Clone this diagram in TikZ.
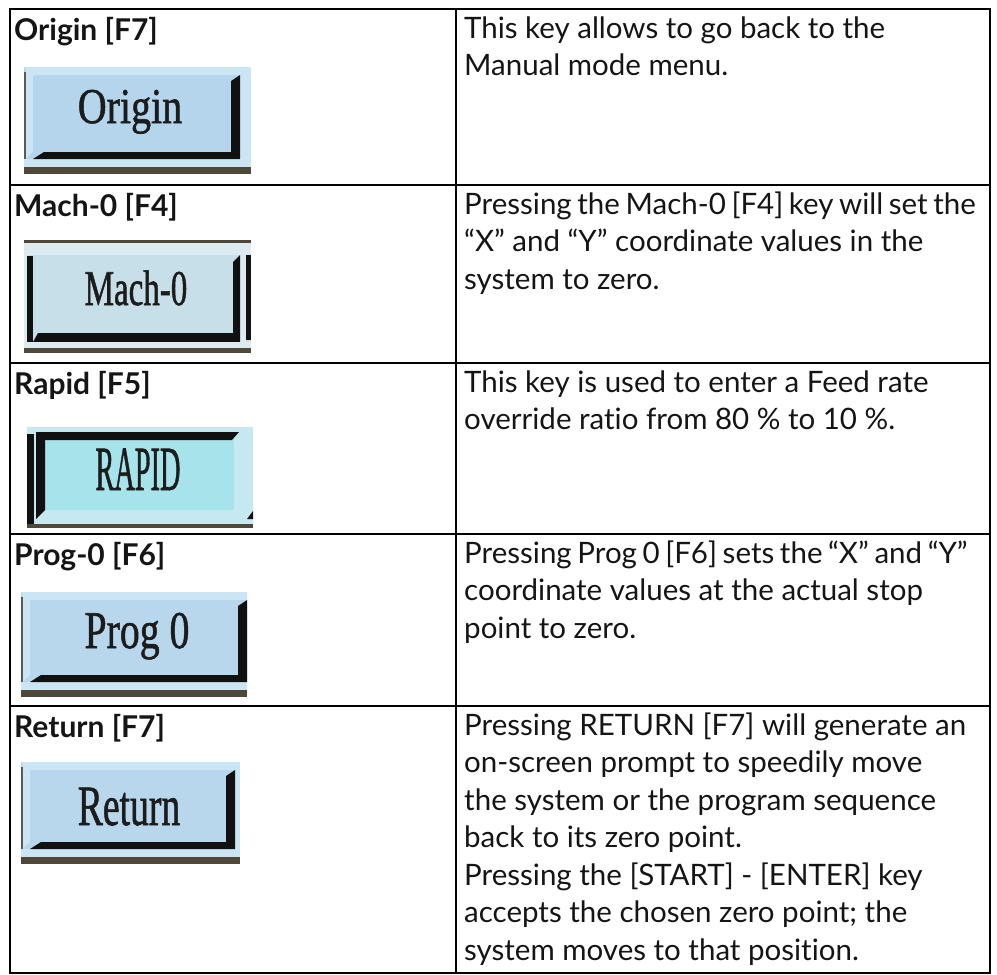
\documentclass[tikz,border=0pt]{standalone}
\usepackage{fontspec}
\usepackage{graphicx}
\setmainfont{Lato}[Ligatures=NoCommon]
\newfontfamily\keyfont{Liberation Serif}[FakeBold=1.2]
\definecolor{keyface}{HTML}{B4D5EB}
\definecolor{keyhi}{HTML}{CCE5F4}
\definecolor{keydark}{HTML}{111111}
\definecolor{keybase}{HTML}{4F4839}
\definecolor{keyedge}{HTML}{5A5A5A}
\definecolor{keyink}{HTML}{1C1C1C}
\definecolor{machface}{HTML}{C7DFE9}
\definecolor{machhi}{HTML}{DCEBF0}
\definecolor{rapidface}{HTML}{A7E3EA}
\definecolor{rapidhi}{HTML}{C6E8F0}
\definecolor{bodyink}{HTML}{151515}
\newcommand{\RaisedKey}[5]{%
\begin{scope}[shift={(#1,#2)}]
 \fill[keyface] (0,0) rectangle (#3,#4);
 \fill[keyhi] (0,0) -- (#3,0) -- ({#3-#5},8) -- (9,8) -- cycle;
 \fill[keyhi] ({#3-#5},0) rectangle (#3,{#4-7});
 \fill[keyhi] (1.5,0) -- (9,8) -- (9,{#4-22}) -- (1.5,{#4-15}) -- cycle;
 \draw[keyedge, line width=1.5pt] (0.75,5) -- (0.75,{#4-10});
 \fill[keyhi] (0,{#4-15}) rectangle (#3,{#4-7});
 \fill[keydark] (9,{#4-15}) -- ({#3-#5},{#4-15}) -- ({#3-#5},8) -- ({#3-#5-9},14) -- ({#3-#5-9},{#4-22}) -- (20,{#4-22}) -- cycle;
 \fill[keybase] (0,{#4-7}) rectangle (#3,#4);
\end{scope}}
\newcommand{\tightsp}{\spaceskip=0.19em plus 0.05em\relax}
\begin{document}
\begin{tikzpicture}[x=1pt,y=-1pt,
  body/.style={anchor=base west, inner sep=0pt, text=bodyink, font=\fontsize{29.5}{36}\selectfont},
  head/.style={anchor=base west, inner sep=0pt, text=bodyink, font=\fontsize{30}{36}\selectfont\bfseries},
  keytext/.style={anchor=base, inner sep=0pt, text=keyink, font=\keyfont},
  grid/.style={line width=2.7pt, black}]
\useasboundingbox (0,0) rectangle (997,975);

% ---------- buttons ----------
\RaisedKey{24}{67}{227}{107}{11}
% Mach-0
\begin{scope}[shift={(24,240)}]
 \fill[machface] (0,0) rectangle (227,113);
 \fill[keybase] (0,0) rectangle (227,3);
 \fill[machhi] (0,3) rectangle (227,15);
 \fill[machhi] (0,15) rectangle (3,102);
 \fill[keydark] (3,16) rectangle (9,102);
 \fill[machhi] (216,15) rectangle (222,102);
 \fill[keydark] (216,15) -- (216,102) -- (9,102) -- (14,93) -- (209,93) -- (209,22) -- cycle;
 \fill[keydark] (222,15) rectangle (227,100);
 \fill[machhi] (0,102) rectangle (227,108);
 \fill[keybase] (0,108) rectangle (227,113);
\end{scope}
% RAPID
\begin{scope}[shift={(27,427)}]
 \fill[rapidhi] (0,0) rectangle (226,101);
 \fill[rapidface] (18,13) rectangle (207,83);
 \fill[keydark] (0,7) rectangle (7,100);
 \fill[keydark] (9,5) -- (212,5) -- (205,13) -- (18,13) -- (18,83) -- (9,92) -- cycle;
 \fill[keybase] (0,97) rectangle (226,101);
 \fill[keydark] (226,84) -- (226,92) -- (220,92) -- cycle;
\end{scope}
% Prog 0
\colorlet{keyface}{keyface!95!white}
\RaisedKey{21}{592}{226}{105}{0}
% Return
\RaisedKey{21}{762}{219}{102}{5}

% ---------- key labels ----------
\node[keytext] (k1) at (130,123) {\fontsize{50}{50}\selectfont\scalebox{0.8}[1]{Origin}};
\node[keytext] (k2) at (136,305) {\fontsize{50}{50}\selectfont\scalebox{0.66}[1]{Mach-0}};
\node[keytext] (k3) at (138,490) {\fontsize{63}{63}\selectfont\scalebox{0.45}[1]{RAPID}};
\node[keytext] (k4) at (137,648) {\fontsize{53}{53}\selectfont\scalebox{0.75}[1]{Prog 0}};
\node[keytext] (k5) at (129,825) {\fontsize{57}{57}\selectfont\scalebox{0.66}[1]{Return}};

% ---------- table ----------
\draw[grid] (10,9) rectangle (990,973);
\draw[grid] (456,9) -- (456,973);
\draw[grid] (10,185) -- (990,185);
\draw[grid] (10,363) -- (990,363);
\draw[grid] (10,534) -- (990,534);
\draw[grid] (10,706) -- (990,706);

% ---------- headers ----------
\node[head] (h1) at (14,40) {Origin [F7]};
\node[head] (h2) at (14,216) {Mach-0 [F4]};
\node[head] (h3) at (14,394) {Rapid [F5]};
\node[head] (h4) at (14,565) {Prog-0 [F6]};
\node[head] (h5) at (14,737) {Return [F7]};

% ---------- descriptions ----------
\node[body] (t1a) at (464,38) {This key allows to go back to the};
\node[body] (t1b) at (464,75.5) {Manual mode menu.};

\node[body] (t2a) at (464,214) {\tightsp Pressing the Mach-0 [F4] key will set the};
\node[body] (t2b) at (464,251.5) {“X” and “Y” coordinate values in the};
\node[body] (t2c) at (464,289) {system to zero.};

\node[body] (t3a) at (464,392) {This key is used to enter a Feed rate};
\node[body] (t3b) at (464,429.5) {override ratio from 80 \% to 10 \%.};

\node[body] (t4a) at (464,563) {\tightsp Pressing Prog 0 [F6] sets the “X” and “Y”};
\node[body] (t4b) at (464,600.5) {coordinate values at the actual stop};
\node[body] (t4c) at (464,638) {point to zero.};

\node[body] (t5a) at (464,735) {Pressing RETURN [F7] will generate an};
\node[body] (t5b) at (464,772.5) {on-screen prompt to speedily move};
\node[body] (t5c) at (464,810) {the system or the program sequence};
\node[body] (t5d) at (464,847.5) {back to its zero point.};
\node[body] (t5e) at (464,885) {Pressing the [START] - [ENTER] key};
\node[body] (t5f) at (464,922.5) {accepts the chosen zero point; the};
\node[body] (t5g) at (464,960) {system moves to that position.};
\end{tikzpicture}
\end{document}
